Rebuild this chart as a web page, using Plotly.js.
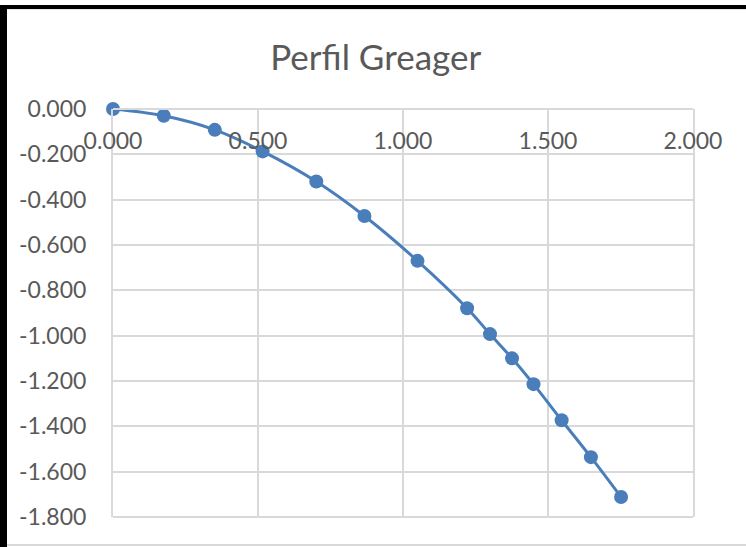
<!DOCTYPE html>
<html>
<head>
<meta charset="utf-8">
<script src="https://cdn.plot.ly/plotly-3.0.1.min.js"></script>
<style>
  html, body { margin: 0; padding: 0; background: #ffffff; }
  #wrap { position: relative; width: 746px; height: 547px; overflow: hidden; }
  #chart { position: absolute; left: 0; top: 0; width: 746px; height: 547px; }
  .frame { position: absolute; pointer-events: none; }
</style>
</head>
<body>
<div id="wrap">
  <div id="chart"></div>
  <div class="frame" style="left:0;top:5px;width:746px;height:4px;background:#000;"></div>
  <div class="frame" style="left:0;top:5px;width:7px;height:542px;background:#000;"></div>
  <div class="frame" style="left:7px;top:544px;width:739px;height:2px;background:#d9d9d9;"></div>
  <div class="frame" style="left:7px;top:9px;width:739px;height:1px;background:#e6e6e6;"></div>
</div>
<script>
// Data
const xValues = [0.000, 0.175, 0.351, 0.516, 0.701, 0.867, 1.050, 1.221, 1.300, 1.376, 1.450, 1.547, 1.648, 1.752];
const yValues = [0.000, -0.030, -0.092, -0.187, -0.320, -0.472, -0.670, -0.879, -0.993, -1.100, -1.214, -1.373, -1.536, -1.712];

const xTickValues = [0.0, 0.5, 1.0, 1.5, 2.0];
const yTickValues = [0.0, -0.2, -0.4, -0.6, -0.8, -1.0, -1.2, -1.4, -1.6, -1.8];
const xTickLabels = xTickValues.map(v => v.toFixed(3));
const yTickLabels = yTickValues.map(v => (v === 0 ? 0 : v).toFixed(3));

const chartTitle = "Perfil Greager";

const textColor = "#595959";
const gridColor = "#d9d9d9";
const seriesColor = "#4a7ebb";
const fontFamily = "Lato, 'Open Sans', sans-serif";

const trace = {
  x: xValues,
  y: yValues,
  type: "scatter",
  mode: "lines+markers",
  line: { color: seriesColor, width: 3, shape: "spline", smoothing: 1 },
  marker: { color: seriesColor, size: 14 },
  cliponaxis: false,
  hoverinfo: "x+y",
  showlegend: false
};

const layout = {
  width: 746,
  height: 547,
  autosize: false,
  margin: { l: 113, r: 53, t: 109, b: 30, pad: 0 },
  paper_bgcolor: "#ffffff",
  plot_bgcolor: "#ffffff",
  font: { family: fontFamily, color: textColor, size: 23 },
  title: {
    text: chartTitle,
    font: { family: fontFamily, size: 35, color: textColor },
    x: 0.453, xref: "paper", xanchor: "center",
    y: 0.895, yref: "container", yanchor: "middle"
  },
  xaxis: {
    range: [0, 2],
    side: "bottom",
    anchor: "free",
    position: 1,
    tickvals: xTickValues,
    ticktext: xTickLabels,
    ticks: "outside",
    ticklen: 11,
    tickcolor: "rgba(0,0,0,0)",
    showgrid: true,
    gridcolor: gridColor,
    gridwidth: 2,
    showline: true,
    linecolor: gridColor,
    linewidth: 2,
    zeroline: false,
    tickfont: { family: fontFamily, size: 23, color: textColor },
    fixedrange: true
  },
  yaxis: {
    range: [-1.8, 0],
    tickvals: yTickValues,
    ticktext: yTickLabels,
    ticks: "outside",
    ticklen: 20,
    tickcolor: "rgba(0,0,0,0)",
    showgrid: true,
    gridcolor: gridColor,
    gridwidth: 2,
    showline: true,
    linecolor: gridColor,
    linewidth: 2,
    mirror: true,
    zeroline: false,
    tickfont: { family: fontFamily, size: 23, color: textColor },
    fixedrange: true
  },
  shapes: [
    { type: "line", xref: "paper", yref: "paper", x0: 0, x1: 1, y0: 0, y1: 0,
      line: { color: gridColor, width: 2 }, layer: "below" }
  ]
};

Plotly.newPlot("chart", [trace], layout, { displayModeBar: false, staticPlot: true });
</script>
</body>
</html>
